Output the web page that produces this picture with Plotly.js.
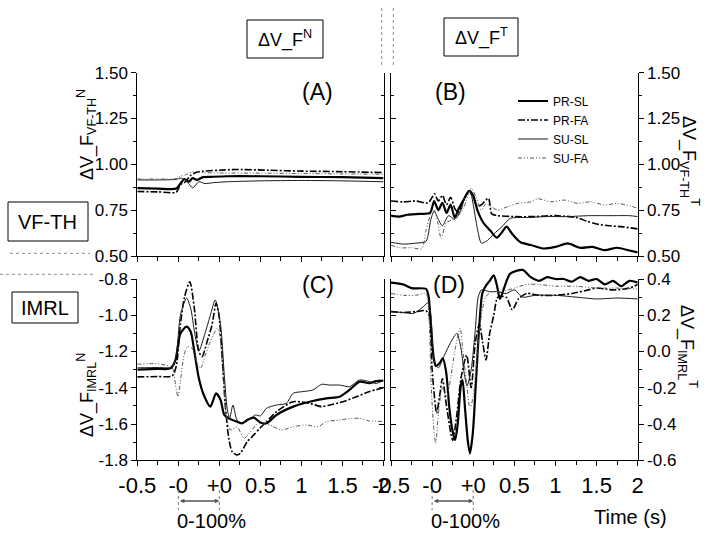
<!DOCTYPE html>
<html><head><meta charset="utf-8">
<script src="https://cdn.plot.ly/plotly-3.0.1.min.js"></script>
<style>html,body{margin:0;padding:0;background:#fff}#plot{width:717px;height:540px}</style>
</head><body><div id="plot"></div>
<script>
// ---------- data (x in tick-slot units: -0.5, -0, +0, 0.5, 1, 1.5, 2) ----------
const tickVals = [0, 1, 2, 3, 4, 5, 6];
const tickText = ['-0.5', '-0', '+0', '0.5', '1', '1.5', '2'];
const seriesNames = ['PR-SL', 'PR-FA', 'SU-SL', 'SU-FA'];
const yTicksC = [-1.8, -1.6, -1.4, -1.2, -1.0, -0.8];
const yTextC = ['-1.8', '-1.6', '-1.4', '-1.2', '-1.0', '-0.8'];
const yTicksD = [-0.6, -0.4, -0.2, 0.0, 0.2, 0.4];
const yTextD = ['-0.6', '-0.4', '-0.2', '0.0', '0.2', '0.4'];

// Panel A
const A_PRSL_t = [0, 0.5, 0.95, 1.05, 1.15, 1.25, 1.35, 1.45, 1.6, 1.8, 2.2, 3, 4, 5, 6];
const A_PRSL_v = [0.87, 0.868, 0.868, 0.895, 0.92, 0.905, 0.925, 0.915, 0.93, 0.932, 0.935, 0.935, 0.932, 0.93, 0.925];
const A_PRFA_t = [0, 0.5, 0.95, 1.05, 1.15, 1.3, 1.46, 2.0, 2.4, 3.2, 4, 5, 6];
const A_PRFA_v = [0.852, 0.85, 0.848, 0.89, 0.9, 0.94, 0.958, 0.968, 0.972, 0.968, 0.963, 0.96, 0.955];
const A_SUSL_t = [0, 0.5, 0.95, 1.05, 1.2, 1.35, 1.5, 1.65, 1.85, 2.2, 3, 4, 5, 6];
const A_SUSL_v = [0.915, 0.915, 0.918, 0.925, 0.91, 0.872, 0.905, 0.895, 0.9, 0.905, 0.91, 0.912, 0.91, 0.905];
const A_SUFA_t = [0, 0.5, 0.95, 1.05, 1.2, 1.35, 1.6, 2, 3, 4, 5, 6];
const A_SUFA_v = [0.92, 0.92, 0.922, 0.935, 0.945, 0.96, 0.955, 0.953, 0.952, 0.95, 0.948, 0.946];

// Panel B
const B_PRSL_t = [0, 0.2, 0.4, 0.7, 0.95, 1.05, 1.15, 1.25, 1.35, 1.45, 1.55, 1.65, 1.75, 1.9, 2.0, 2.1, 2.25, 2.41, 2.57, 2.7, 2.81, 2.95, 3.15, 3.4, 3.7, 4.0, 4.3, 4.6, 4.9, 5.2, 5.5, 5.8, 6.0];
const B_PRSL_v = [0.72, 0.715, 0.725, 0.73, 0.735, 0.8, 0.75, 0.79, 0.735, 0.78, 0.71, 0.76, 0.8, 0.855, 0.83, 0.75, 0.68, 0.64, 0.6, 0.63, 0.66, 0.62, 0.575, 0.56, 0.541, 0.55, 0.569, 0.545, 0.55, 0.532, 0.545, 0.53, 0.52];
const B_PRFA_t = [0, 0.3, 0.6, 0.9, 1.0, 1.06, 1.15, 1.25, 1.35, 1.45, 1.55, 1.64, 1.75, 1.9, 2.0, 2.1, 2.2, 2.37, 2.45, 2.6, 3.0, 3.5, 4.0, 4.5, 4.76, 5.0, 5.3, 5.6, 6.0];
const B_PRFA_v = [0.8, 0.795, 0.8, 0.79, 0.82, 0.84, 0.8, 0.83, 0.78, 0.82, 0.76, 0.735, 0.8, 0.85, 0.82, 0.77, 0.78, 0.815, 0.73, 0.72, 0.715, 0.715, 0.72, 0.71, 0.69, 0.675, 0.665, 0.66, 0.648];
const B_SUSL_t = [0, 0.3, 0.6, 0.85, 0.97, 1.05, 1.15, 1.25, 1.4, 1.55, 1.7, 1.8, 1.92, 2.0, 2.1, 2.2, 2.35, 2.5, 2.7, 2.9, 3.3, 3.8, 4.3, 4.8, 5.3, 5.8, 6.0];
const B_SUSL_v = [0.575, 0.565, 0.57, 0.58, 0.7, 0.745, 0.7, 0.665, 0.72, 0.7, 0.75, 0.82, 0.855, 0.78, 0.65, 0.57, 0.585, 0.62, 0.66, 0.705, 0.71, 0.715, 0.715, 0.72, 0.72, 0.72, 0.715];
const B_SUFA_t = [0, 0.2, 0.5, 0.75, 0.85, 0.97, 1.05, 1.14, 1.22, 1.34, 1.46, 1.62, 1.78, 1.95, 2.07, 2.19, 2.31, 2.43, 2.6, 2.84, 3.08, 3.4, 3.57, 3.89, 4.22, 4.54, 4.87, 5.19, 5.51, 5.84, 6.0];
const B_SUFA_v = [0.56, 0.545, 0.545, 0.54, 0.64, 0.73, 0.75, 0.68, 0.595, 0.68, 0.695, 0.715, 0.77, 0.87, 0.82, 0.75, 0.785, 0.77, 0.75, 0.77, 0.787, 0.795, 0.812, 0.796, 0.805, 0.787, 0.796, 0.778, 0.787, 0.772, 0.76];

// Panel C
const C_PRSL_t = [0, 0.5, 0.81, 0.93, 1.05, 1.2, 1.3, 1.39, 1.5, 1.62, 1.78, 1.92, 2.03, 2.12, 2.23, 2.4, 2.55, 2.7, 2.84, 3.0, 3.15, 3.39, 3.8, 4.2, 4.61, 4.93, 5.17, 5.42, 5.66, 5.82, 6.0];
const C_PRSL_v = [-1.3, -1.296, -1.293, -1.247, -1.1, -1.063, -1.09, -1.2, -1.348, -1.44, -1.504, -1.431, -1.467, -1.55, -1.569, -1.585, -1.596, -1.575, -1.565, -1.592, -1.596, -1.55, -1.504, -1.477, -1.458, -1.449, -1.412, -1.366, -1.375, -1.363, -1.36];
const C_PRFA_t = [0, 0.5, 0.85, 0.95, 1.05, 1.15, 1.28, 1.39, 1.5, 1.58, 1.7, 1.82, 1.92, 1.99, 2.07, 2.15, 2.23, 2.31, 2.43, 2.51, 2.68, 2.84, 3.0, 3.15, 3.39, 3.8, 4.2, 4.49, 4.69, 5.01, 5.34, 5.66, 6.0];
const C_PRFA_v = [-1.34, -1.338, -1.335, -1.28, -1.05, -0.9, -0.815, -0.962, -1.2, -1.228, -1.146, -1.054, -0.934, -0.999, -1.237, -1.513, -1.679, -1.752, -1.771, -1.762, -1.697, -1.66, -1.62, -1.587, -1.532, -1.477, -1.486, -1.504, -1.495, -1.477, -1.449, -1.421, -1.4];
const C_SUSL_t = [0, 0.5, 0.85, 0.95, 1.05, 1.2, 1.3, 1.4, 1.5, 1.65, 1.78, 1.9, 2.03, 2.12, 2.19, 2.25, 2.33, 2.43, 2.55, 2.76, 2.88, 3.0, 3.15, 3.39, 3.63, 3.8, 4.04, 4.28, 4.49, 4.69, 4.93, 5.17, 5.42, 5.66, 5.82, 6.0];
const C_SUSL_v = [-1.29, -1.288, -1.285, -1.22, -1.0, -0.905, -0.96, -1.1, -1.197, -1.1, -1.0, -0.916, -1.054, -1.33, -1.513, -1.569, -1.495, -1.578, -1.596, -1.569, -1.55, -1.555, -1.513, -1.495, -1.486, -1.43, -1.421, -1.412, -1.381, -1.385, -1.385, -1.394, -1.357, -1.366, -1.376, -1.36];
const C_SUFA_t = [0, 0.5, 0.85, 0.93, 0.99, 1.05, 1.14, 1.22, 1.34, 1.46, 1.54, 1.66, 1.78, 1.95, 2.01, 2.09, 2.17, 2.27, 2.43, 2.6, 2.76, 2.92, 3.04, 3.23, 3.51, 3.8, 4.12, 4.4, 4.61, 4.93, 5.21, 5.42, 5.66, 6.0];
const C_SUFA_v = [-1.27, -1.268, -1.29, -1.385, -1.449, -1.366, -1.219, -1.173, -1.183, -1.265, -1.293, -1.219, -1.146, -1.072, -1.109, -1.33, -1.55, -1.633, -1.615, -1.679, -1.642, -1.6, -1.6, -1.605, -1.633, -1.615, -1.605, -1.615, -1.587, -1.578, -1.569, -1.569, -1.583, -1.585];

// Panel D
const D_PRSL_t = [0, 0.3, 0.5, 0.85, 0.91, 0.97, 1.04, 1.09, 1.18, 1.26, 1.34, 1.42, 1.5, 1.56, 1.62, 1.7, 1.74, 1.8, 1.87, 1.92, 1.99, 2.07, 2.15, 2.22, 2.3, 2.4, 2.5, 2.58, 2.65, 2.75, 2.9, 3.2, 3.4, 3.6, 3.8, 4.0, 4.2, 4.4, 4.6, 4.8, 5.0, 5.2, 5.4, 5.6, 5.8, 6.0];
const D_PRSL_v = [0.38, 0.37, 0.35, 0.345, 0.31, 0.146, -0.038, -0.08, -0.065, -0.038, -0.111, -0.313, -0.442, -0.488, -0.405, -0.185, -0.157, -0.313, -0.497, -0.562, -0.45, -0.15, 0.15, 0.32, 0.36, 0.39, 0.42, 0.36, 0.29, 0.35, 0.43, 0.45, 0.41, 0.39, 0.41, 0.4, 0.4, 0.385, 0.41, 0.39, 0.4, 0.37, 0.39, 0.36, 0.39, 0.38];
const D_PRFA_t = [0, 0.3, 0.6, 0.85, 0.93, 1.0, 1.11, 1.18, 1.25, 1.35, 1.5, 1.6, 1.7, 1.84, 1.95, 2.05, 2.15, 2.23, 2.31, 2.4, 2.5, 2.6, 2.8, 2.95, 3.1, 3.3, 3.6, 4.0, 4.4, 4.8, 5.0, 5.4, 5.8, 6.0];
const D_PRFA_v = [0.22, 0.215, 0.22, 0.225, 0.2, -0.1, -0.34, -0.25, -0.15, -0.3, -0.49, -0.35, -0.15, -0.02, -0.2, 0.05, 0.15, 0.05, -0.047, 0.1, 0.2, 0.3, 0.3, 0.23, 0.29, 0.32, 0.31, 0.31, 0.32, 0.34, 0.35, 0.34, 0.35, 0.37];
const D_SUSL_t = [0, 0.3, 0.55, 0.8, 0.9, 0.97, 1.05, 1.15, 1.3, 1.45, 1.6, 1.7, 1.78, 1.85, 1.95, 2.05, 2.12, 2.2, 2.4, 2.6, 2.8, 3.0, 3.2, 3.5, 4.0, 4.5, 5.0, 5.5, 6.0];
const D_SUSL_v = [0.22, 0.215, 0.21, 0.25, 0.27, 0.2, -0.05, -0.09, -0.02, 0.05, 0.1, 0.02, -0.12, -0.19, -0.1, 0.12, 0.3, 0.34, 0.33, 0.33, 0.32, 0.34, 0.3, 0.31, 0.31, 0.3, 0.29, 0.295, 0.29];
const D_SUFA_t = [0, 0.3, 0.6, 0.85, 0.92, 0.98, 1.05, 1.09, 1.15, 1.25, 1.35, 1.45, 1.55, 1.68, 1.75, 1.85, 1.92, 2.0, 2.1, 2.2, 2.3, 2.45, 2.7, 3.0, 3.3, 3.6, 4.0, 4.5, 5.0, 5.5, 6.0];
const D_SUFA_v = [0.32, 0.31, 0.31, 0.32, 0.2, -0.2, -0.45, -0.506, -0.35, -0.2, -0.25, -0.15, 0.0, 0.128, 0.0, -0.2, -0.313, -0.25, 0.0, 0.2, 0.3, 0.33, 0.33, 0.35, 0.37, 0.37, 0.36, 0.36, 0.35, 0.35, 0.345];

// ---------- layout helpers ----------
const W = 717, H = 540;
const FONT = 'Liberation Sans, Arial, Helvetica, sans-serif';
const PX = p => p / W, PY = p => 1 - p / H;

// D traces go on a hidden, slightly taller copy of the D y-axis so peaks above 0.4 stay visible
const panels = [
  {xa: 'x', ya: 'y', data: [[A_PRSL_t, A_PRSL_v], [A_PRFA_t, A_PRFA_v], [A_SUSL_t, A_SUSL_v], [A_SUFA_t, A_SUFA_v]]},
  {xa: 'x2', ya: 'y2', data: [[B_PRSL_t, B_PRSL_v], [B_PRFA_t, B_PRFA_v], [B_SUSL_t, B_SUSL_v], [B_SUFA_t, B_SUFA_v]]},
  {xa: 'x3', ya: 'y3', data: [[C_PRSL_t, C_PRSL_v], [C_PRFA_t, C_PRFA_v], [C_SUSL_t, C_SUSL_v], [C_SUFA_t, C_SUFA_v]]},
  {xa: 'x4', ya: 'y9', data: [[D_PRSL_t, D_PRSL_v], [D_PRFA_t, D_PRFA_v], [D_SUSL_t, D_SUSL_v], [D_SUFA_t, D_SUFA_v]]}
];
const lineStyles = [
  {color: '#000', width: 2.2, dash: 'solid'},
  {color: '#000', width: 1.6, dash: '7px,2px,2px,2px'},
  {color: '#1a1a1a', width: 1, dash: 'solid'},
  {color: '#555', width: 1, dash: '4px,2px,1px,2px,1px,2px'}
];

const traces = [];
panels.forEach((p, pi) => {
  p.data.forEach((d, si) => {
    traces.push({
      type: 'scatter', mode: 'lines', x: d[0], y: d[1], xaxis: p.xa, yaxis: p.ya,
      name: seriesNames[si], showlegend: pi === 1, hoverinfo: 'skip',
      line: Object.assign({shape: 'spline', smoothing: 0.7}, lineStyles[si])
    });
  });
});

const xDomL = [PX(137.3), PX(383.5)], xDomR = [PX(391), PX(637.7)];
const yDomT = [PY(256), PY(72.7)], yDomB = [PY(460.3), PY(279)];
const pxPerUnit = 460.3 - 279;           // pixels per 1.0 on the lower panels
const dTopPx = 262;                       // top of the hidden D drawing area
const yDomD9 = [PY(460.3), PY(dTopPx)];
const dRange9 = [-0.6, 0.4 + (279 - dTopPx) / pxPerUnit];

function xax(domain, anchor, labels) {
  return {domain, anchor, range: [0, 6], tickmode: 'array', tickvals: tickVals, ticktext: tickText,
    showticklabels: labels, ticks: 'outside', ticklen: 5, tickcolor: '#000', tickwidth: 1,
    showline: true, linecolor: '#000', linewidth: 1, showgrid: false, zeroline: false,
    tickfont: {family: FONT, size: 22, color: '#000'},
    minor: {tick0: 0, dtick: 0.5, ticks: 'outside', ticklen: 4, tickcolor: '#000', showgrid: false}};
}
function yax(o) {
  const base = {showgrid: false, zeroline: false, showline: true, linecolor: '#000', linewidth: 1,
    tickcolor: '#000', tickwidth: 1, ticklen: 5, tickfont: {family: FONT, size: 17, color: '#000'}};
  return Object.assign(base, o);
}
const topY = {range: [0.5, 1.5], tickmode: 'linear', tick0: 0.5, dtick: 0.25, tickformat: '.2f'};
const cY = {range: [-1.8, -0.8], tickmode: 'array', tickvals: yTicksC, ticktext: yTextC};
const dY = {range: [-0.6, 0.4], tickmode: 'array', tickvals: yTicksD, ticktext: yTextD};
const minTop = dir => ({tick0: 0.5, dtick: 0.125, ticks: dir, ticklen: 3, tickcolor: '#000', showgrid: false});
const minC = dir => ({tick0: -1.8, dtick: 0.1, ticks: dir, ticklen: 3, tickcolor: '#000', showgrid: false});
const minD = dir => ({tick0: -0.6, dtick: 0.1, ticks: dir, ticklen: 3, tickcolor: '#000', showgrid: false});

const layout = {
  width: W, height: H, margin: {l: 0, r: 0, t: 0, b: 0},
  paper_bgcolor: '#fff', plot_bgcolor: 'rgba(0,0,0,0)',
  font: {family: FONT, color: '#000'},
  showlegend: true,
  legend: {x: PX(513), y: PY(86.5), xanchor: 'left', yanchor: 'top', bgcolor: 'rgba(0,0,0,0)',
    font: {family: FONT, size: 12, color: '#000'}, tracegroupgap: 0},
  xaxis: xax(xDomL, 'y', false),
  xaxis2: xax(xDomR, 'y2', false),
  xaxis3: xax(xDomL, 'y3', true),
  xaxis4: xax(xDomR, 'y4', true),
  yaxis: yax(Object.assign({domain: yDomT, anchor: 'x', side: 'left', ticks: 'outside', minor: minTop('outside')}, topY)),
  yaxis5: yax(Object.assign({overlaying: 'y', anchor: 'x', side: 'right', ticks: 'inside', showticklabels: false, minor: minTop('inside')}, topY)),
  yaxis2: yax(Object.assign({domain: yDomT, anchor: 'x2', side: 'right', ticks: 'outside', minor: minTop('outside')}, topY)),
  yaxis6: yax(Object.assign({overlaying: 'y2', anchor: 'x2', side: 'left', ticks: 'inside', showticklabels: false, minor: minTop('inside')}, topY)),
  yaxis3: yax(Object.assign({domain: yDomB, anchor: 'x3', side: 'left', ticks: 'outside', minor: minC('outside')}, cY)),
  yaxis7: yax(Object.assign({overlaying: 'y3', anchor: 'x3', side: 'right', ticks: 'inside', showticklabels: false, minor: minC('inside')}, cY)),
  yaxis4: yax(Object.assign({domain: yDomB, anchor: 'x4', side: 'right', ticks: 'outside', minor: minD('outside')}, dY)),
  yaxis8: yax(Object.assign({overlaying: 'y4', anchor: 'x4', side: 'left', ticks: 'inside', showticklabels: false, minor: minD('inside')}, dY)),
  yaxis9: {domain: yDomD9, anchor: 'x4', range: dRange9, visible: false, showgrid: false, zeroline: false},
  shapes: [], annotations: []
};

// empty helpers so overlay axes and the D frame are drawn
[['x', 'y5'], ['x2', 'y6'], ['x3', 'y7'], ['x4', 'y8'], ['x4', 'y4']].forEach(a => traces.push({type: 'scatter', mode: 'lines', x: [], y: [], xaxis: a[0], yaxis: a[1], showlegend: false, hoverinfo: 'skip'}));

const S = layout.shapes, A = layout.annotations;
function box(x0, y0, x1, y1) { S.push({type: 'rect', xref: 'paper', yref: 'paper', x0: PX(x0), x1: PX(x1), y0: PY(y1), y1: PY(y0), line: {color: '#000', width: 1}}); }
function dotted(x0, y0, x1, y1) { S.push({type: 'line', xref: 'paper', yref: 'paper', x0: PX(x0), x1: PX(x1), y0: PY(y0), y1: PY(y1), line: {color: '#8a8a8a', width: 1, dash: 'dot'}}); }
function txt(text, x, y, size, extra) { A.push(Object.assign({text, xref: 'paper', yref: 'paper', x: PX(x), y: PY(y), xanchor: 'center', yanchor: 'middle', showarrow: false, font: {family: FONT, size, color: '#000'}}, extra || {})); }

box(247, 20, 323, 58); txt('ΔV_F<sup>N</sup>', 285, 39, 18);
box(444, 18, 518, 56); txt('ΔV_F<sup>T</sup>', 481, 37, 18);
box(8, 202, 88, 241); txt('VF-TH', 48, 221.5, 20);
box(12, 292, 78, 323); txt('IMRL', 45, 307.5, 20);

dotted(381.7, 8, 381.7, 67); dotted(393.3, 8, 393.3, 67);
dotted(10, 253.3, 90, 253.3); dotted(0, 274.3, 93, 274.3);

txt('(A)', 317.5, 92.5, 23); txt('(B)', 450, 92.5, 23);
txt('(C)', 317.5, 285, 23); txt('(D)', 449, 285, 23);

txt('ΔV_F<sub>VF-TH</sub><sup>N</sup>', 86, 135, 18, {textangle: -90});
txt('ΔV_F<sub>IMRL</sub><sup>N</sup>', 86, 395, 18, {textangle: -90});
txt('ΔV_F<sub>VF-TH</sub><sup>T</sup>', 690, 161, 18, {textangle: 90});
txt('ΔV_F<sub>IMRL</sub><sup>T</sup>', 688, 346, 18, {textangle: 90});

txt('Time (s)', 630, 517, 20);

// 0-100% brackets
['x3', 'x4'].forEach(xr => {
  [1, 2].forEach(v => S.push({type: 'line', xref: xr, yref: 'paper', x0: v, x1: v, y0: PY(490), y1: PY(510), line: {color: '#777', width: 1, dash: 'dot'}}));
  A.push({text: '', xref: xr, yref: 'paper', x: 2, y: PY(501), axref: 'pixel', ayref: 'pixel', ax: -41, ay: 0,
    showarrow: true, arrowside: 'end+start', arrowhead: 2, startarrowhead: 2, arrowsize: 0.7, startarrowsize: 0.7, arrowwidth: 1.3, arrowcolor: '#555', standoff: 0, startstandoff: 0});
  A.push({text: '0-100%', xref: xr, yref: 'paper', x: 1, y: PY(521), xanchor: 'left', yanchor: 'middle', xshift: -3, showarrow: false, font: {family: FONT, size: 20, color: '#000'}});
});

Plotly.newPlot('plot', traces, layout, {staticPlot: true, displayModeBar: false});
</script></body></html>
